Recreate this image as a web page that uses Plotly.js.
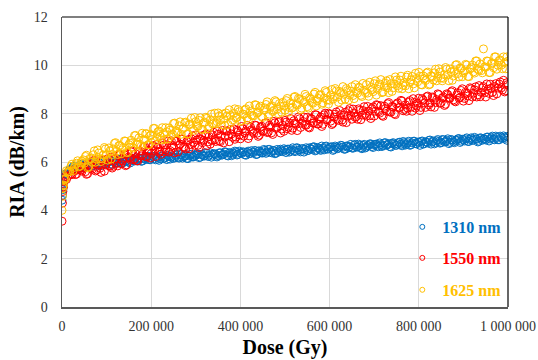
<!DOCTYPE html>
<html>
<head>
<meta charset="utf-8">
<script src="https://cdn.plot.ly/plotly-3.0.1.min.js"></script>
<style>html,body{margin:0;padding:0;background:#fff;}#chart{width:538px;height:360px;}</style>
</head>
<body>
<div id="chart"></div>
<script>
const seriesNames = ["1310 nm", "1550 nm", "1625 nm"];
const seriesColors = ["#0070C0", "#FF0000", "#FFC000"];
const xTickVals = [0, 200000, 400000, 600000, 800000, 1000000];
const xTickText = ["0", "200 000", "400 000", "600 000", "800 000", "1 000 000"];

const dose = [0,1000,2000,3000,4000,
5000,10000,15000,20000,25000,30000,35000,40000,45000,50000,
55000,60000,65000,70000,75000,80000,85000,90000,95000,100000,
105000,110000,115000,120000,125000,130000,135000,140000,145000,150000,
155000,160000,165000,170000,175000,180000,185000,190000,195000,200000,
205000,210000,215000,220000,225000,230000,235000,240000,245000,250000,
255000,260000,265000,270000,275000,280000,285000,290000,295000,300000,
305000,310000,315000,320000,325000,330000,335000,340000,345000,350000,
355000,360000,365000,370000,375000,380000,385000,390000,395000,400000,
405000,410000,415000,420000,425000,430000,435000,440000,445000,450000,
455000,460000,465000,470000,475000,480000,485000,490000,495000,500000,
505000,510000,515000,520000,525000,530000,535000,540000,545000,550000,
555000,560000,565000,570000,575000,580000,585000,590000,595000,600000,
605000,610000,615000,620000,625000,630000,635000,640000,645000,650000,
655000,660000,665000,670000,675000,680000,685000,690000,695000,700000,
705000,710000,715000,720000,725000,730000,735000,740000,745000,750000,
755000,760000,765000,770000,775000,780000,785000,790000,795000,800000,
805000,810000,815000,820000,825000,830000,835000,840000,845000,850000,
855000,860000,865000,870000,875000,880000,885000,890000,895000,900000,
905000,910000,915000,920000,925000,930000,935000,940000,945000,950000,
955000,960000,965000,970000,975000,980000,985000,990000,995000,1000000];

const doseHalf = [2500,7500,12500,17500,22500,27500,32500,37500,42500,47500,
52500,57500,62500,67500,72500,77500,82500,87500,92500,97500,
102500,107500,112500,117500,122500,127500,132500,137500,142500,147500,
152500,157500,162500,167500,172500,177500,182500,187500,192500,197500,
202500,207500,212500,217500,222500,227500,232500,237500,242500,247500,
252500,257500,262500,267500,272500,277500,282500,287500,292500,297500,
302500,307500,312500,317500,322500,327500,332500,337500,342500,347500,
352500,357500,362500,367500,372500,377500,382500,387500,392500,397500,
402500,407500,412500,417500,422500,427500,432500,437500,442500,447500,
452500,457500,462500,467500,472500,477500,482500,487500,492500,497500,
502500,507500,512500,517500,522500,527500,532500,537500,542500,547500,
552500,557500,562500,567500,572500,577500,582500,587500,592500,597500,
602500,607500,612500,617500,622500,627500,632500,637500,642500,647500,
652500,657500,662500,667500,672500,677500,682500,687500,692500,697500,
702500,707500,712500,717500,722500,727500,732500,737500,742500,747500,
752500,757500,762500,767500,772500,777500,782500,787500,792500,797500,
802500,807500,812500,817500,822500,827500,832500,837500,842500,847500,
852500,857500,862500,867500,872500,877500,882500,887500,892500,897500,
902500,907500,912500,917500,922500,927500,932500,937500,942500,947500,
952500,957500,962500,967500,972500,977500,982500,987500,992500,997500];

const ria1310 = [4.42,4.62,4.85,5.08,5.22,
5.38,5.50,5.63,5.66,5.80,5.75,5.71,5.84,5.83,5.80,
5.92,5.86,5.99,5.85,5.95,5.85,5.95,6.02,5.91,5.98,
6.03,5.91,6.01,5.97,6.09,6.01,5.94,6.08,6.05,6.01,
6.13,6.06,6.18,6.04,6.14,6.04,6.14,6.21,6.10,6.17,
6.21,6.09,6.19,6.14,6.26,6.17,6.10,6.23,6.20,6.15,
6.27,6.19,6.31,6.16,6.26,6.15,6.25,6.32,6.21,6.28,
6.31,6.20,6.29,6.25,6.36,6.28,6.20,6.34,6.31,6.26,
6.38,6.30,6.42,6.27,6.37,6.26,6.36,6.42,6.32,6.38,
6.42,6.30,6.40,6.35,6.47,6.39,6.31,6.45,6.41,6.37,
6.48,6.41,6.52,6.38,6.47,6.37,6.46,6.53,6.43,6.49,
6.53,6.41,6.51,6.46,6.58,6.50,6.42,6.55,6.52,6.47,
6.59,6.52,6.63,6.49,6.58,6.48,6.57,6.64,6.53,6.60,
6.63,6.52,6.61,6.57,6.69,6.61,6.53,6.66,6.63,6.58,
6.70,6.62,6.74,6.59,6.69,6.58,6.68,6.75,6.64,6.71,
6.74,6.63,6.72,6.68,6.80,6.72,6.64,6.77,6.74,6.69,
6.81,6.73,6.85,6.70,6.80,6.69,6.79,6.86,6.75,6.82,
6.85,6.74,6.83,6.79,6.91,6.83,6.75,6.88,6.85,6.80,
6.92,6.84,6.96,6.81,6.91,6.80,6.90,6.97,6.86,6.93,
6.96,6.85,6.94,6.90,7.02,6.94,6.86,6.99,6.96,6.91,
7.03,6.95,7.07,6.92,7.02,6.92,7.02,7.08,6.98,7.06];

const ria1310Half = [4.95,5.50,5.56,5.70,5.63,5.82,5.73,5.80,5.90,5.76,
5.91,5.84,5.99,5.85,6.01,5.91,5.98,5.85,6.02,5.92,
5.98,6.05,5.90,6.04,5.97,6.11,5.96,6.12,6.02,6.09,
5.96,6.14,6.04,6.10,6.18,6.03,6.17,6.10,6.24,6.09,
6.24,6.14,6.20,6.07,6.24,6.14,6.20,6.27,6.12,6.25,
6.18,6.31,6.16,6.31,6.21,6.27,6.14,6.31,6.21,6.26,
6.34,6.18,6.32,6.25,6.38,6.23,6.38,6.28,6.34,6.21,
6.38,6.28,6.33,6.41,6.25,6.39,6.31,6.45,6.29,6.45,
6.35,6.41,6.28,6.45,6.35,6.40,6.48,6.32,6.46,6.38,
6.52,6.36,6.52,6.41,6.48,6.34,6.52,6.42,6.47,6.55,
6.39,6.53,6.45,6.59,6.43,6.59,6.48,6.55,6.41,6.59,
6.48,6.54,6.62,6.46,6.60,6.52,6.66,6.50,6.66,6.55,
6.62,6.48,6.66,6.55,6.61,6.68,6.53,6.66,6.59,6.73,
6.57,6.73,6.62,6.69,6.55,6.73,6.62,6.68,6.75,6.60,
6.73,6.66,6.79,6.64,6.79,6.69,6.76,6.62,6.80,6.69,
6.75,6.82,6.67,6.80,6.73,6.86,6.71,6.86,6.76,6.82,
6.69,6.87,6.76,6.82,6.89,6.74,6.87,6.80,6.93,6.78,
6.93,6.83,6.89,6.76,6.93,6.83,6.89,6.96,6.81,6.94,
6.87,7.00,6.85,7.00,6.90,6.96,6.83,7.00,6.90,6.95,
7.03,6.87,7.01,6.94,7.07,6.92,7.07,6.97,7.03,6.90];

const ria1550 = [3.55,4.30,4.78,4.98,5.18,
5.31,5.28,5.59,5.50,5.67,5.48,5.67,5.78,5.62,5.75,
5.49,5.90,5.75,6.06,5.63,5.89,5.74,6.06,5.62,6.00,
5.85,6.20,5.82,6.13,5.84,6.32,6.04,6.30,5.88,6.21,
6.42,6.09,6.34,6.05,6.46,6.32,6.64,6.22,6.48,6.35,
6.67,6.23,6.61,6.45,6.79,6.41,6.71,6.41,6.88,6.60,
6.85,6.42,6.74,6.95,6.61,6.85,6.55,6.96,6.81,7.12,
6.69,6.95,6.80,7.12,6.68,7.06,6.89,7.23,6.85,7.15,
6.84,7.31,7.03,7.28,6.84,7.16,7.37,7.03,7.26,6.96,
7.37,7.21,7.52,7.08,7.34,7.19,7.51,7.06,7.44,7.27,
7.61,7.22,7.52,7.21,7.68,7.39,7.64,7.20,7.52,7.72,
7.38,7.61,7.31,7.71,7.56,7.86,7.43,7.68,7.54,7.85,
7.41,7.78,7.62,7.95,7.57,7.86,7.56,8.02,7.74,7.98,
7.55,7.86,8.07,7.72,7.96,7.65,8.06,7.90,8.21,7.77,
8.03,7.88,8.20,7.75,8.13,7.96,8.30,7.91,8.21,7.90,
8.37,8.08,8.33,7.89,8.21,8.41,8.07,8.30,8.00,8.40,
8.25,8.55,8.12,8.37,8.23,8.54,8.10,8.47,8.31,8.64,
8.26,8.56,8.26,8.73,8.44,8.69,8.26,8.58,8.79,8.45,
8.69,8.39,8.79,8.64,8.95,8.52,8.78,8.64,8.96,8.52,
8.89,8.73,9.07,8.69,8.99,8.69,9.16,8.88,9.12,8.69,
9.01,9.22,8.88,9.12,8.82,9.23,9.07,9.38,8.95,9.21];

const ria1550Half = [4.93,5.40,5.39,5.63,5.48,5.63,5.50,5.76,5.67,5.82,
5.60,5.52,5.90,5.70,6.06,5.67,5.89,5.57,6.06,5.88,
6.14,5.82,5.75,6.14,5.94,6.31,5.93,6.16,5.85,6.35,
6.18,6.45,6.12,6.05,6.44,6.25,6.61,6.23,6.46,6.16,
6.65,6.47,6.73,6.40,6.32,6.70,6.50,6.86,6.47,6.69,
6.38,6.87,6.69,6.95,6.62,6.54,6.92,6.72,7.08,6.69,
6.91,6.60,7.08,6.90,7.16,6.83,6.74,7.12,6.92,7.28,
6.88,7.10,6.79,7.28,7.09,7.35,7.02,6.94,7.31,7.11,
7.47,7.07,7.29,6.97,7.46,7.27,7.53,7.19,7.11,7.48,
7.28,7.63,7.24,7.45,7.14,7.62,7.44,7.69,7.36,7.27,
7.65,7.44,7.80,7.40,7.62,7.30,7.79,7.60,7.86,7.52,
7.44,7.81,7.61,7.96,7.57,7.78,7.47,7.95,7.77,8.02,
7.69,7.60,7.98,7.77,8.13,7.73,7.95,7.63,8.12,7.93,
8.19,7.85,7.77,8.14,7.94,8.29,7.90,8.11,7.80,8.28,
8.10,8.35,8.02,7.93,8.31,8.10,8.46,8.06,8.28,7.96,
8.45,8.26,8.52,8.18,8.10,8.47,8.27,8.62,8.23,8.44,
8.13,8.62,8.44,8.70,8.36,8.28,8.66,8.46,8.82,8.43,
8.65,8.34,8.82,8.64,8.90,8.57,8.49,8.87,8.67,9.03,
8.63,8.85,8.54,9.03,8.85,9.11,8.78,8.70,9.07,8.87,
9.23,8.84,9.06,8.75,9.24,9.06,9.31,8.98,8.90,9.28];

const ria1625 = [4.00,4.58,4.92,5.05,5.28,
5.27,5.64,5.60,5.82,5.64,5.89,6.05,5.83,6.03,5.95,
6.28,5.80,6.13,6.30,5.99,6.50,6.14,6.13,6.60,6.31,
6.58,6.12,6.54,6.80,6.31,6.68,6.51,6.87,6.40,6.72,
6.90,6.58,7.10,6.73,6.73,7.19,6.91,7.17,6.72,7.13,
7.39,6.88,7.25,7.06,7.42,6.93,7.25,7.41,7.09,7.59,
7.22,7.20,7.66,7.36,7.62,7.15,7.56,7.81,7.31,7.67,
7.48,7.83,7.34,7.65,7.81,7.48,7.98,7.60,7.58,8.03,
7.73,7.98,7.51,7.91,8.16,7.65,8.01,7.82,8.17,7.68,
7.99,8.15,7.82,8.32,7.94,7.91,8.36,8.06,8.31,7.84,
8.24,8.49,7.98,8.33,8.14,8.49,8.00,8.31,8.47,8.14,
8.63,8.25,8.23,8.68,8.38,8.63,8.16,8.56,8.80,8.29,
8.65,8.46,8.81,8.32,8.63,8.79,8.45,8.95,8.57,8.55,
9.00,8.70,8.94,8.47,8.87,9.12,8.60,8.96,8.77,9.12,
8.62,8.93,9.09,8.76,9.25,8.87,8.85,9.30,8.99,9.24,
8.77,9.17,9.41,8.90,9.26,9.07,9.41,8.92,9.23,9.39,
9.05,9.55,9.17,9.15,9.59,9.29,9.54,9.07,9.46,9.71,
9.20,9.56,9.37,9.72,9.22,9.53,9.69,9.36,9.86,9.48,
9.46,9.91,9.61,9.85,9.38,9.78,10.03,9.52,9.88,9.69,
10.04,9.54,9.85,10.01,9.68,10.18,9.80,9.78,10.68,9.92,
10.17,9.70,10.10,10.35,9.84,10.20,10.01,10.35,9.86,10.17];

const ria1625Half = [5.02,5.29,5.59,5.60,5.91,5.78,5.95,5.80,5.96,6.09,
6.23,5.76,6.15,5.99,6.46,6.12,6.37,6.02,6.29,6.54,
6.08,6.46,6.31,6.77,6.44,6.68,6.34,6.60,6.86,6.39,
6.78,6.62,7.09,6.75,7.00,6.65,6.92,7.17,6.71,7.09,
6.93,7.39,7.04,7.28,6.92,7.18,7.42,6.95,7.32,7.16,
7.61,7.27,7.50,7.15,7.40,7.65,7.17,7.55,7.38,7.84,
7.49,7.72,7.36,7.61,7.85,7.37,7.74,7.57,8.02,7.67,
7.90,7.54,7.79,8.03,7.55,7.92,7.75,8.20,7.85,8.08,
7.72,7.97,8.20,7.73,8.09,7.92,8.37,8.02,8.25,7.89,
8.14,8.38,7.89,8.26,8.09,8.54,8.19,8.42,8.06,8.31,
8.54,8.06,8.43,8.26,8.71,8.36,8.59,8.23,8.47,8.71,
8.23,8.60,8.43,8.88,8.53,8.76,8.39,8.64,8.88,8.40,
8.77,8.60,9.04,8.69,8.92,8.56,8.80,9.04,8.56,8.93,
8.75,9.20,8.85,9.08,8.71,8.96,9.20,8.72,9.08,8.91,
9.36,9.01,9.23,8.87,9.12,9.36,8.87,9.24,9.07,9.52,
9.16,9.39,9.03,9.28,9.51,9.03,9.40,9.23,9.67,9.32,
9.55,9.19,9.44,9.68,9.19,9.56,9.39,9.84,9.49,9.72,
9.36,9.61,9.84,9.36,9.73,9.56,10.01,9.66,9.89,9.53,
9.77,10.01,9.53,9.90,9.73,10.18,9.83,10.06,9.69,9.94,
10.18,9.70,10.07,9.90,10.35,10.00,10.22,9.86,10.11,10.35];

const seriesY = [[ria1310, ria1310Half], [ria1550, ria1550Half], [ria1625, ria1625Half]];

const traces = [];
seriesY.forEach((pair, i) => {
  traces.push({
    type: "scatter", mode: "markers",
    x: dose.concat(doseHalf), y: pair[0].concat(pair[1]),
    name: seriesNames[i], showlegend: false, hoverinfo: "skip",
    marker: {symbol: "circle-open", size: 8, color: seriesColors[i], line: {width: 1, color: seriesColors[i]}}
  });
});
const legendKeys = ["legend", "legend2", "legend3"];
seriesNames.forEach((nm, i) => {
  traces.push({
    type: "scatter", mode: "markers", x: [null], y: [null],
    name: nm, showlegend: true, legend: legendKeys[i],
    marker: {symbol: "circle-open", size: 5, color: seriesColors[i], line: {width: 1, color: seriesColors[i]}}
  });
});

const legendY = [0.276, 0.169, 0.059];
function mkLegend(i) {
  return {
    x: 0.763, xanchor: "left", y: legendY[i], yanchor: "middle",
    bgcolor: "rgba(0,0,0,0)", borderwidth: 0,
    font: {family: "Liberation Serif", size: 16, color: seriesColors[i], weight: "bold"}
  };
}

const layout = {
  width: 538, height: 360,
  margin: {l: 62, r: 30, t: 17, b: 53},
  paper_bgcolor: "#ffffff", plot_bgcolor: "#ffffff",
  font: {family: "Liberation Serif", color: "#333333"},
  xaxis: {
    range: [0, 1000000], tickvals: xTickVals, ticktext: xTickText,
    showgrid: true, gridcolor: "#d9d9d9", gridwidth: 1,
    zeroline: false, showline: true, linecolor: "#595959", linewidth: 1.5,
    ticks: "", ticklabelstandoff: 6,
    tickfont: {family: "Liberation Serif", size: 14, color: "#333333"},
    title: {text: "Dose (Gy)", font: {family: "Liberation Serif", size: 20, color: "#000", weight: "bold"}, standoff: 6}
  },
  yaxis: {
    range: [0, 12], dtick: 2,
    showgrid: true, gridcolor: "#d9d9d9", gridwidth: 1,
    zeroline: false, showline: true, linecolor: "#595959", linewidth: 1.5,
    ticks: "", ticklabelstandoff: 10,
    tickfont: {family: "Liberation Serif", size: 14, color: "#333333"},
    title: {text: "RIA (dB/km)", font: {family: "Liberation Serif", size: 20, color: "#000", weight: "bold"}, standoff: 3}
  },
  shapes: [
    {type: "line", xref: "paper", yref: "paper", x0: 0, x1: 1, y0: 1, y1: 1, line: {color: "#000", width: 1.2}},
    {type: "line", xref: "paper", yref: "paper", x0: 1, x1: 1, y0: 0, y1: 1, line: {color: "#000", width: 1.2}}
  ],
  legend: mkLegend(0), legend2: mkLegend(1), legend3: mkLegend(2)
};

Plotly.newPlot("chart", traces, layout, {displayModeBar: false, staticPlot: true});
</script>
</body>
</html>
